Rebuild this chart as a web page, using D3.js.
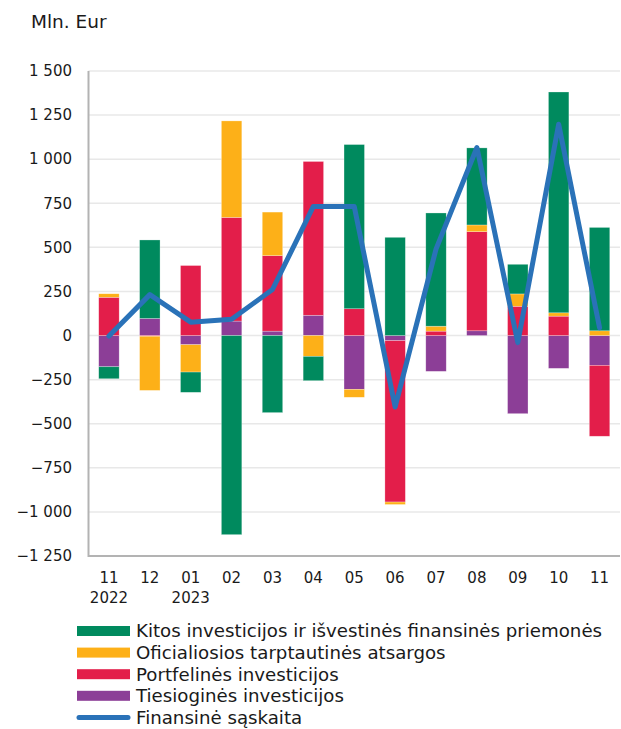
<!DOCTYPE html>
<html><head><meta charset="utf-8">
<script src="https://cdn.jsdelivr.net/npm/d3@7"></script>
<style>body{margin:0;background:#fff}svg{display:block}text{font-family:"DejaVu Sans",Verdana,sans-serif;fill:#1a1a1a}</style>
</head><body><div id="c"></div>
<script>
const months = ["11","12","01","02","03","04","05","06","07","08","09","10","11"];
const years  = ["2022","","2023","","","","","","","","","",""];
const tiesiogines = [-177, 97, -52, 82, 25, 115, -305, -29, -203, 27, -443, -186, -169];
const portfelines = [217, -4, 397, 588, 428, 872, 152, -915, 25, 562, 166, 110, -402];
const oficialiosios = [20, -307, -155, 547, 247, -118, -45, -14, 28, 38, 70, 19, 27];
const kitos = [-68, 445, -115, -1129, -437, -138, 931, 557, 642, 437, 168, 1252, 586];
const finansine = [-3, 232, 76, 92, 261, 732, 732, -405, 490, 1066, -40, 1198, 44];
const yTicks = [-1250,-1000,-750,-500,-250,0,250,500,750,1000,1250,1500];
const seriesNames = {
  kitos:"Kitos investicijos ir išvestinės finansinės priemonės",
  ofic:"Oficialiosios tarptautinės atsargos",
  port:"Portfelinės investicijos",
  ties:"Tiesioginės investicijos",
  line:"Finansinė sąskaita"
};
const colors = {kitos:"#008a5e", ofic:"#fdb018", port:"#e31e4a", ties:"#8c3e97", line:"#2a72b8"};

const W=621,H=729;
const M={left:88.5,right:1,top:71,bottom:173};
const svg=d3.select("#c").append("svg").attr("width",W).attr("height",H);
const idx = months.map((m,i)=>i);
const x=d3.scaleBand().domain(idx).range([M.left,W-M.right]).paddingInner(0.5).paddingOuter(0.25);
const y=d3.scaleLinear().domain([-1250,1500]).range([H-M.bottom,M.top]);

const rows = idx.map(i=>({i, ties:tiesiogines[i], port:portfelines[i], ofic:oficialiosios[i], kitos:kitos[i]}));
const keys=["ties","port","ofic","kitos"];
const stack=d3.stack().keys(keys).offset(d3.stackOffsetDiverging)(rows);

// gridlines
svg.append("g").selectAll("line").data(yTicks.filter(t=>t!==-1250)).join("line")
  .attr("x1",M.left).attr("x2",W-M.right).attr("y1",d=>y(d)).attr("y2",d=>y(d))
  .attr("stroke","#e8e8e8").attr("stroke-width",1.5);

// y labels
const fmt = v => (v<0?"\u2212":"") + d3.format(",")(Math.abs(v)).replace(/,/g," ");
svg.append("g").selectAll("text").data(yTicks).join("text")
  .attr("x",72).attr("y",d=>y(d)).attr("dy","0.35em").attr("text-anchor","end")
  .attr("font-size",15).text(fmt);

// bars
svg.append("g").selectAll("g").data(stack).join("g").attr("fill",d=>colors[d.key])
  .selectAll("rect").data(d=>d).join("rect")
  .attr("x",d=>x(d.data.i)).attr("width",x.bandwidth())
  .attr("y",d=>y(Math.max(d[0],d[1]))).attr("height",d=>Math.abs(y(d[0])-y(d[1])))
  .attr("stroke","#fff").attr("stroke-opacity",0.45).attr("stroke-width",0.6);

// axes lines
svg.append("line").attr("x1",M.left).attr("x2",M.left).attr("y1",M.top).attr("y2",y(-1250)+1)
  .attr("stroke","#b3b3b3").attr("stroke-width",2);
svg.append("line").attr("x1",M.left).attr("x2",W-M.right).attr("y1",y(-1250)).attr("y2",y(-1250))
  .attr("stroke","#b3b3b3").attr("stroke-width",2);

// line
const line=d3.line().x((d,i)=>x(i)+x.bandwidth()/2).y(d=>y(d));
svg.append("path").datum(finansine).attr("d",line).attr("fill","none")
  .attr("stroke",colors.line).attr("stroke-width",5).attr("stroke-linejoin","round").attr("stroke-linecap","round");

// x labels
const xl=svg.append("g");
xl.selectAll("text.m").data(idx).join("text").attr("class","m")
  .attr("x",i=>x(i)+x.bandwidth()/2).attr("y",583).attr("text-anchor","middle").attr("font-size",15).text(i=>months[i]);
xl.selectAll("text.yr").data(idx.filter(i=>years[i])).join("text").attr("class","yr")
  .attr("x",i=>x(i)+x.bandwidth()/2).attr("y",603).attr("text-anchor","middle").attr("font-size",15).text(i=>years[i]);

// title
svg.append("text").attr("x",31).attr("y",28).attr("font-size",18.5).text("Mln. Eur");

// legend
const leg=[["kitos","rect"],["ofic","rect"],["port","rect"],["ties","rect"],["line","line"]];
const lg=svg.append("g");
leg.forEach(([k,t],j)=>{
  const cy=631+j*21.6;
  if(t==="rect") lg.append("rect").attr("x",77).attr("y",cy-5).attr("width",53).attr("height",10).attr("fill",colors[k]);
  else lg.append("line").attr("x1",79).attr("x2",128).attr("y1",cy).attr("y2",cy).attr("stroke",colors[k]).attr("stroke-width",5).attr("stroke-linecap","round");
  lg.append("text").attr("x",136).attr("y",cy).attr("dy","0.35em").attr("font-size",18.2).text(seriesNames[k]);
});
</script></body></html>
